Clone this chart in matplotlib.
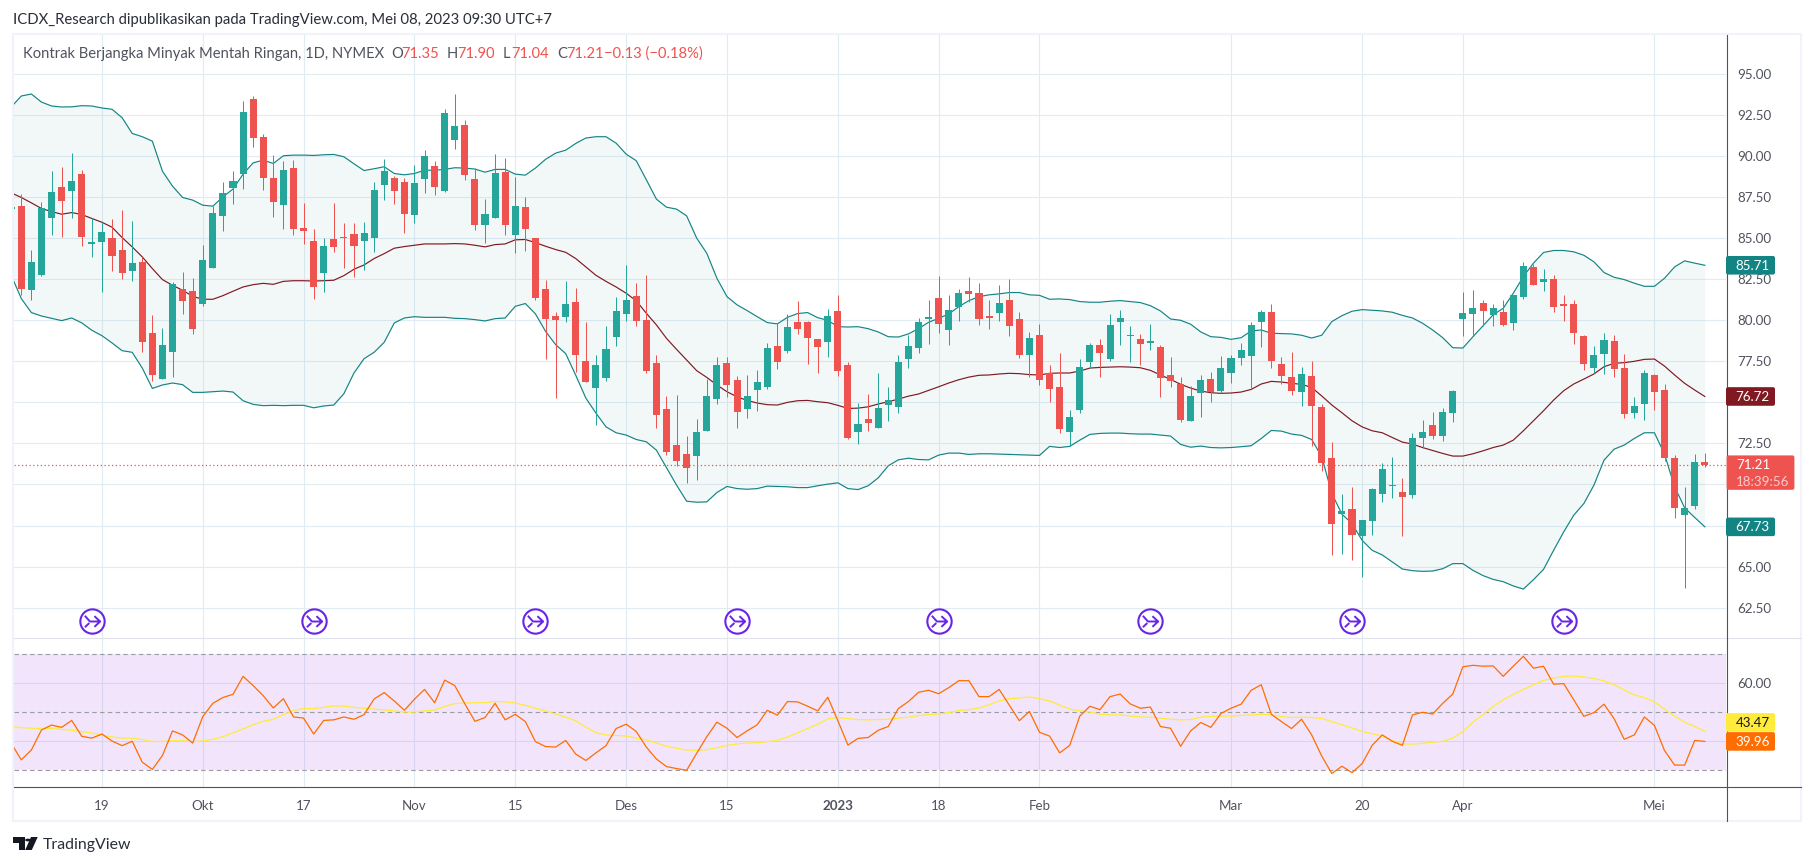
# -*- coding: utf-8 -*-

"""
Crude oil daily candles with Bollinger Bands and RSI, TradingView look
"""

# Imports
import numpy as np
import matplotlib
matplotlib.use("Agg")
import matplotlib.pyplot as plt
from matplotlib.lines import Line2D
from matplotlib.patches import FancyBboxPatch, Polygon, Circle, Rectangle
from matplotlib.path import Path
from matplotlib.transforms import IdentityTransform

# Daily candles, first one is cut by the left edge
opens = [86.78, 86.95, 81.83, 82.74, 86.22, 88.11, 87.86, 88.90, 84.63, 84.75, 85.00, 84.27, 82.98, 83.53, 79.25, 76.44, 78.09, 81.93, 81.81, 81.02,
         83.17, 86.34, 88.05, 88.90, 93.47, 91.16, 88.66, 87.01, 89.27, 85.61, 84.81, 82.86, 84.94, 85.06, 85.24, 84.81, 85.00, 88.23, 88.66, 88.41,
         86.40, 88.60, 89.39, 87.86, 90.97, 91.89, 88.60, 85.79, 86.22, 89.02, 85.18, 86.89, 85.00, 81.91, 80.28, 80.22, 81.14, 77.54, 75.89, 76.48,
         78.98, 80.39, 81.48, 80.02, 77.40, 74.59, 72.40, 71.85, 71.73, 73.25, 75.20, 77.40, 76.36, 74.59, 75.75, 75.93, 78.43, 78.13, 79.90, 79.90,
         78.86, 78.68, 80.57, 77.28, 73.19, 73.98, 73.43, 74.84, 74.71, 77.64, 78.31, 80.08, 81.36, 79.41, 80.81, 81.79, 81.67, 80.26, 80.45, 81.24,
         80.08, 77.89, 79.11, 76.79, 75.93, 73.19, 74.53, 77.46, 78.50, 77.64, 79.90, 79.04, 78.86, 78.64, 78.37, 76.67, 76.12, 73.86, 75.57, 76.42,
         75.67, 76.79, 77.70, 77.82, 79.90, 80.51, 77.34, 76.54, 75.63, 76.60, 74.71, 71.60, 68.21, 68.49, 66.85, 67.76, 69.41, 69.90, 69.53, 69.35,
         72.82, 73.62, 72.95, 74.35, 80.08, 80.39, 81.06, 80.33, 80.51, 79.84, 81.42, 83.25, 82.34, 82.52, 81.00, 81.00, 79.04, 77.09, 77.95, 78.74,
         77.09, 74.35, 74.90, 76.67, 75.75, 71.60, 68.13, 68.68, 71.35]
highs = [87.00, 87.72, 84.27, 87.19, 89.08, 89.33, 90.18, 89.14, 86.22, 85.97, 86.16, 86.70, 86.03, 83.86, 80.35, 79.55, 82.34, 82.92, 82.55, 84.57,
         86.95, 88.41, 89.08, 93.35, 93.66, 91.34, 90.06, 89.69, 89.75, 87.13, 85.55, 85.00, 87.13, 85.91, 85.91, 86.00, 88.41, 89.82, 88.78, 88.66,
         89.45, 90.36, 89.69, 92.87, 93.78, 92.19, 89.25, 87.38, 90.12, 89.88, 88.72, 87.50, 85.00, 82.44, 80.53, 82.42, 81.99, 79.92, 77.91, 79.65,
         81.42, 83.37, 82.28, 82.76, 77.89, 75.38, 75.45, 72.95, 73.98, 76.42, 77.76, 77.76, 76.60, 76.67, 76.97, 78.62, 79.82, 80.39, 81.18, 79.96,
         78.86, 80.69, 81.55, 77.46, 74.96, 75.51, 76.79, 75.93, 77.89, 79.11, 80.14, 81.24, 82.70, 81.55, 81.91, 82.64, 82.28, 81.24, 82.16, 82.52,
         80.51, 79.29, 79.78, 77.28, 78.01, 74.53, 77.64, 78.62, 78.86, 80.39, 80.63, 79.65, 79.17, 79.78, 78.50, 77.76, 76.54, 75.99, 76.67, 76.85,
         77.82, 77.89, 78.62, 79.90, 80.63, 81.00, 77.76, 78.07, 77.15, 77.52, 74.90, 72.58, 69.41, 69.83, 67.82, 69.77, 71.30, 71.66, 70.38, 73.13,
         73.92, 74.41, 74.65, 75.75, 81.73, 81.85, 81.24, 81.00, 81.24, 81.55, 83.56, 83.44, 83.13, 82.76, 81.55, 81.24, 79.11, 78.43, 79.23, 79.11,
         77.95, 75.32, 76.97, 76.73, 76.12, 71.79, 69.83, 71.85, 71.90]
lows = [86.60, 81.57, 81.26, 82.70, 85.18, 85.06, 86.22, 84.51, 83.84, 81.70, 82.98, 82.50, 82.42, 78.09, 76.32, 76.44, 76.56, 80.41, 79.19, 80.89,
        83.17, 85.42, 87.07, 87.98, 90.55, 87.93, 86.28, 85.55, 85.18, 84.63, 81.32, 81.70, 84.14, 83.17, 82.62, 83.05, 84.14, 87.32, 87.07, 85.30,
        85.91, 87.74, 87.62, 87.80, 90.43, 88.53, 85.49, 84.69, 86.22, 85.18, 84.08, 84.20, 81.26, 77.66, 75.28, 79.92, 76.87, 76.26, 73.64, 76.30,
        78.43, 79.96, 79.65, 76.79, 73.43, 71.79, 71.12, 70.08, 70.26, 73.25, 74.90, 75.32, 73.43, 74.04, 74.47, 75.81, 77.03, 78.01, 79.17, 77.34,
        76.79, 77.76, 76.60, 72.76, 72.46, 73.25, 73.43, 73.86, 74.35, 77.09, 78.01, 78.56, 79.23, 78.50, 79.96, 81.12, 79.72, 79.47, 79.96, 79.04,
        77.70, 76.54, 76.06, 75.02, 73.13, 72.34, 74.35, 77.09, 76.54, 77.52, 78.50, 77.46, 77.28, 78.19, 75.32, 75.93, 73.80, 73.86, 74.10, 75.02,
        75.60, 76.18, 77.28, 75.87, 78.37, 77.09, 76.12, 75.45, 74.78, 72.34, 70.81, 65.69, 65.75, 65.38, 64.35, 66.91, 68.92, 69.16, 66.85, 69.16,
        72.21, 72.76, 72.64, 73.80, 79.04, 79.10, 79.65, 79.65, 79.65, 79.41, 81.30, 82.16, 81.79, 80.51, 79.96, 78.56, 76.97, 76.79, 76.73, 76.54,
        74.04, 74.04, 73.92, 74.53, 71.42, 67.94, 63.67, 68.49, 71.04]
closes = [86.92, 81.91, 83.53, 86.83, 87.80, 87.25, 88.47, 85.06, 84.75, 85.36, 83.90, 82.86, 83.47, 78.70, 76.69, 78.52, 82.18, 81.20, 79.49, 83.66,
          86.53, 87.74, 88.47, 92.68, 91.10, 88.66, 87.19, 89.14, 85.55, 85.42, 82.01, 84.51, 84.45, 85.00, 84.51, 85.30, 87.93, 89.08, 87.86, 86.46,
          88.35, 90.00, 88.11, 92.62, 91.83, 88.84, 85.79, 86.46, 88.96, 85.79, 86.95, 85.55, 81.38, 80.10, 80.04, 81.02, 77.91, 76.26, 77.30, 78.25,
          80.57, 81.24, 79.96, 76.91, 74.23, 71.97, 71.42, 70.99, 73.19, 75.38, 77.28, 76.06, 74.41, 75.38, 76.24, 78.31, 77.46, 79.59, 79.47, 78.92,
          78.37, 80.26, 76.91, 72.82, 73.68, 73.74, 74.65, 75.14, 77.46, 78.43, 79.90, 80.20, 79.78, 80.63, 81.67, 81.61, 80.08, 80.14, 81.06, 79.65,
          77.89, 78.92, 76.36, 75.81, 73.37, 74.10, 77.15, 78.50, 78.01, 79.72, 80.14, 79.11, 78.56, 78.74, 76.48, 76.30, 73.92, 75.38, 76.36, 75.63,
          77.09, 77.70, 78.19, 79.72, 80.51, 77.52, 76.60, 75.69, 76.73, 74.78, 71.30, 67.58, 68.37, 66.91, 67.82, 69.71, 70.93, 69.96, 69.23, 72.82,
          73.19, 72.95, 74.41, 75.69, 80.45, 80.75, 80.57, 80.75, 79.72, 81.55, 83.31, 82.16, 82.52, 80.81, 80.87, 79.23, 77.34, 77.89, 78.80, 77.03,
          74.29, 74.78, 76.79, 75.63, 71.60, 68.55, 68.57, 71.36, 71.21]

# Bollinger Bands
bb_upper = [92.99, 93.66, 93.78, 93.29, 93.05, 92.99, 93.00, 93.07, 93.05, 92.93, 92.85, 92.34, 91.38, 91.18, 90.91, 89.08, 88.17, 87.48, 87.32, 87.01,
            86.95, 87.52, 87.99, 88.90, 89.59, 89.75, 89.55, 90.02, 90.06, 90.06, 90.04, 90.08, 90.10, 89.96, 89.53, 89.12, 89.23, 89.35, 88.94, 88.86,
            88.94, 89.14, 89.14, 89.19, 89.29, 89.27, 89.21, 89.02, 89.19, 89.19, 88.90, 88.84, 89.27, 89.80, 90.18, 90.36, 90.77, 91.10, 91.18, 91.18,
            90.79, 90.12, 89.72, 88.56, 87.38, 86.89, 86.77, 86.36, 85.00, 84.08, 82.56, 81.44, 80.94, 80.59, 80.22, 79.86, 79.78, 80.18, 80.41, 80.47,
            80.16, 80.00, 79.61, 79.59, 79.61, 79.49, 79.29, 79.00, 78.98, 79.17, 79.49, 79.88, 80.12, 80.39, 80.83, 81.20, 81.44, 81.55, 81.61, 81.69,
            81.69, 81.55, 81.52, 81.28, 81.30, 81.26, 81.14, 81.10, 81.10, 81.16, 81.20, 81.14, 81.08, 80.89, 80.57, 80.08, 80.00, 79.76, 79.29, 79.00,
            78.96, 78.84, 78.94, 79.35, 79.41, 79.21, 79.19, 79.17, 79.09, 78.92, 79.09, 79.92, 80.28, 80.55, 80.65, 80.61, 80.57, 80.49, 80.30, 80.14,
            79.82, 79.41, 78.94, 78.33, 78.31, 79.00, 79.67, 80.33, 80.73, 81.65, 82.66, 83.48, 84.13, 84.25, 84.25, 84.17, 83.96, 83.56, 82.91, 82.62,
            82.48, 82.26, 82.07, 82.07, 82.56, 83.25, 83.62, 83.48, 83.35]
bb_middle = [87.76, 87.48, 87.15, 86.81, 86.62, 86.46, 86.56, 86.44, 86.20, 85.97, 85.67, 85.04, 84.47, 83.86, 83.15, 82.48, 82.13, 81.83, 81.46, 81.28,
             81.28, 81.50, 81.77, 82.03, 82.17, 82.25, 82.19, 82.37, 82.41, 82.41, 82.39, 82.41, 82.44, 82.72, 83.11, 83.37, 83.76, 84.06, 84.39, 84.49,
             84.57, 84.65, 84.65, 84.65, 84.67, 84.65, 84.57, 84.47, 84.61, 84.65, 84.90, 84.92, 84.73, 84.51, 84.31, 84.14, 83.76, 83.25, 82.74, 82.37,
             82.03, 81.65, 81.18, 80.43, 79.72, 78.90, 78.23, 77.58, 76.93, 76.52, 76.06, 75.65, 75.34, 75.12, 74.96, 74.86, 74.84, 75.00, 75.10, 75.12,
             75.04, 74.98, 74.82, 74.63, 74.65, 74.73, 74.90, 75.04, 75.20, 75.38, 75.51, 75.73, 75.95, 76.18, 76.38, 76.54, 76.65, 76.67, 76.73, 76.77,
             76.75, 76.69, 76.67, 76.77, 76.79, 76.79, 76.91, 77.09, 77.13, 77.15, 77.17, 77.15, 77.11, 76.95, 76.67, 76.40, 76.10, 75.87, 75.69, 75.59,
             75.55, 75.57, 75.63, 75.79, 76.12, 76.28, 76.24, 76.16, 76.10, 75.91, 75.39, 74.84, 74.37, 73.88, 73.51, 73.27, 73.15, 72.86, 72.58, 72.46,
             72.25, 72.07, 71.89, 71.73, 71.73, 71.87, 72.05, 72.25, 72.40, 72.70, 73.27, 73.88, 74.49, 75.14, 75.71, 76.12, 76.42, 76.73, 77.17, 77.38,
             77.42, 77.50, 77.62, 77.64, 77.21, 76.67, 76.16, 75.75, 75.36]
bb_lower = [82.74, 81.32, 80.47, 80.26, 80.12, 79.98, 80.14, 79.84, 79.39, 79.06, 78.62, 78.15, 78.05, 77.09, 75.85, 76.06, 76.18, 76.08, 75.61, 75.61,
            75.65, 75.69, 75.63, 75.10, 74.88, 74.80, 74.82, 74.80, 74.82, 74.82, 74.67, 74.78, 74.84, 75.53, 76.79, 77.66, 78.05, 78.66, 79.84, 80.14,
            80.22, 80.18, 80.18, 80.18, 80.12, 80.10, 80.04, 79.96, 80.10, 80.14, 80.85, 81.02, 80.39, 79.33, 78.52, 77.97, 76.65, 75.26, 74.35, 73.51,
            73.15, 73.01, 72.74, 72.60, 72.09, 71.03, 69.96, 68.98, 68.92, 68.94, 69.51, 69.88, 69.75, 69.71, 69.75, 69.90, 69.88, 69.86, 69.81, 69.81,
            69.92, 70.02, 70.10, 69.75, 69.69, 69.92, 70.40, 71.14, 71.50, 71.60, 71.52, 71.50, 71.79, 71.91, 71.91, 71.83, 71.87, 71.87, 71.85, 71.83,
            71.81, 71.79, 71.77, 72.32, 72.25, 72.32, 72.70, 73.05, 73.11, 73.13, 73.13, 73.09, 73.07, 73.07, 73.01, 72.95, 72.44, 72.27, 72.34, 72.25,
            72.23, 72.25, 72.30, 72.36, 72.80, 73.29, 73.25, 73.07, 72.99, 72.74, 71.69, 69.45, 68.19, 67.62, 66.60, 65.99, 65.71, 65.28, 64.85, 64.75,
            64.71, 64.73, 64.87, 65.18, 65.18, 64.77, 64.45, 64.22, 64.08, 63.82, 63.63, 64.20, 64.83, 65.99, 67.11, 68.13, 68.84, 69.96, 71.48, 72.15,
            72.40, 72.80, 73.15, 73.15, 71.85, 69.86, 68.57, 67.99, 67.42]

# RSI and its moving average
rsi = [39.3, 33.6, 37.0, 43.9, 45.6, 44.8, 47.2, 41.7, 41.1, 42.5, 40.1, 38.5, 40.0, 32.8, 30.3, 35.1, 43.6, 42.2, 39.4, 48.5,
       53.1, 55.1, 56.2, 62.4, 59.2, 55.7, 51.5, 54.7, 48.4, 48.0, 42.5, 47.2, 47.4, 48.4, 47.6, 49.2, 54.6, 56.8, 53.9, 50.7,
       54.5, 57.9, 53.3, 61.1, 59.2, 52.9, 46.9, 48.2, 53.1, 47.4, 49.3, 46.8, 39.9, 38.2, 38.0, 40.3, 35.6, 33.4, 36.0, 38.5,
       44.4, 45.9, 43.4, 38.0, 33.9, 31.3, 30.6, 30.0, 35.9, 41.6, 46.6, 44.5, 41.3, 43.6, 45.7, 50.7, 49.0, 53.7, 53.6, 52.1,
       50.5, 55.2, 47.1, 38.7, 41.0, 41.3, 43.8, 45.1, 51.3, 53.7, 56.9, 57.6, 56.4, 58.5, 60.9, 60.9, 55.4, 55.4, 57.9, 52.5,
       47.1, 50.3, 43.1, 41.8, 36.0, 38.6, 48.7, 52.1, 50.9, 55.4, 56.3, 52.9, 51.4, 51.8, 45.1, 44.5, 38.3, 43.6, 46.5, 44.8,
       49.6, 51.4, 52.8, 57.6, 59.5, 49.3, 46.8, 44.4, 47.6, 42.2, 34.9, 28.9, 31.4, 29.2, 32.3, 38.6, 42.2, 40.0, 38.6, 49.1,
       50.0, 49.4, 53.1, 56.3, 65.7, 66.2, 65.9, 66.0, 62.4, 65.9, 69.3, 65.2, 65.9, 59.7, 59.9, 54.3, 48.6, 49.9, 52.8, 47.8,
       40.7, 42.2, 48.4, 45.5, 36.8, 31.8, 31.8, 40.3, 39.96]
rsi_ma = [45.2, 44.7, 44.5, 44.4, 44.5, 44.1, 43.8, 43.3, 42.9, 42.1, 41.5, 41.1, 41.1, 40.6, 39.9, 40.0, 40.2, 40.2, 39.9, 40.1,
          40.7, 41.6, 42.9, 44.3, 45.7, 46.9, 47.6, 49.2, 50.6, 51.3, 51.3, 51.7, 52.2, 52.1, 51.7, 51.4, 51.1, 50.8, 50.5, 50.1,
          50.1, 50.5, 50.8, 52.0, 53.0, 53.2, 53.3, 53.3, 53.7, 53.6, 53.2, 52.4, 51.4, 50.5, 49.4, 48.3, 47.1, 44.9, 43.0, 42.2,
          42.0, 41.8, 41.1, 40.5, 39.4, 38.3, 37.6, 37.0, 36.9, 37.1, 37.8, 38.6, 39.1, 39.4, 39.5, 39.9, 40.3, 41.5, 42.9, 44.4,
          45.9, 47.7, 48.2, 47.8, 47.5, 47.4, 47.5, 47.6, 48.0, 48.3, 48.9, 49.2, 49.4, 49.9, 50.6, 50.9, 51.5, 52.6, 53.9, 54.7,
          54.9, 55.3, 54.7, 53.9, 52.5, 51.1, 50.5, 50.1, 49.3, 49.1, 49.1, 48.7, 48.4, 48.3, 48.0, 47.6, 47.4, 47.5, 48.3, 48.6,
          48.7, 48.7, 48.9, 49.1, 49.3, 49.1, 48.5, 48.2, 48.3, 48.2, 47.9, 46.8, 45.7, 44.6, 43.4, 42.6, 41.8, 40.3, 39.1, 39.0,
          39.3, 39.7, 40.0, 41.1, 43.4, 46.6, 49.2, 52.0, 54.3, 56.2, 57.9, 59.5, 61.0, 61.8, 62.4, 62.5, 62.2, 61.7, 60.8, 59.5,
          57.7, 56.0, 55.1, 53.6, 51.1, 48.7, 46.6, 45.1, 43.47]

# Axis labels, bars counted from the first complete candle
date_ticks = [8, 18, 28, 39, 49, 60, 70, 81, 91, 101, 120, 133, 143, 162]
date_labels = ["19", "Okt", "17", "Nov", "15", "Des", "15", "2023", "18", "Feb", "Mar", "20", "Apr", "Mei"]
price_ticks = [62.5, 65, 67.5, 70, 72.5, 75, 77.5, 80, 82.5, 85, 87.5, 90, 92.5, 95]
covered_ticks = [67.5, 70, 75]  # these labels sit fully under the scale tags
rsi_grid = [40, 60]
rsi_levels = [30, 50, 70]

# Bars that carry a contract roll icon
event_bars = [7, 29, 51, 71, 91, 112, 132, 153]

# Colours
UP = "#26A69A"
DOWN = "#EF5350"
BAND = "#138484"
BASIS = "#801922"
RSI_LINE = "#FF6D00"
RSI_MA_LINE = "#FFEB3B"
EVENT = "#6A24E8"
GRID = "#E1ECF2"
FRAME = "#F0F3FA"
AXIS = "#50535E"
TEXT = "#50535E"

FONT = ["Lato", "DejaVu Sans"]
W, H = 1814, 866


def figX(x):
    return x / W


def figY(y):
    return 1 - y / H


def pixelAxes(fig, left, top, right, bottom):
    return fig.add_axes([figX(left), figY(bottom), (right - left) / W, (bottom - top) / H])


def figLine(fig, x0, y0, x1, y1, color):
    fig.add_artist(Line2D([figX(x0), figX(x1)], [figY(y0), figY(y1)], color = color, lw = 0.8, zorder = 5))


def scaleLabel(fig, ax, value, text, background, foreground, shift = 0):
    # Coloured tag on the price scale at the height of the last value
    y = ax.transData.transform((0, value))[1] + shift
    left = ax.transData.transform((ax.get_xlim()[1], 0))[0]
    fig.add_artist(FancyBboxPatch((left, y - 9.3), 49, 18.6, boxstyle = "round,pad=0,rounding_size=2",
                                  transform = IdentityTransform(), fc = background, ec = "none", zorder = 8))
    fig.text(figX(left + 9.5), y / H - 0.0003, text, color = foreground, fontsize = 9.6, family = FONT,
             va = "center", ha = "left", zorder = 9)


def setupAxes(ax):
    ax.set_xlim(-0.724, 169.1)
    ax.set_xticks(date_ticks)
    ax.grid(True, color = GRID, lw = 0.8, zorder = 0)
    ax.set_axisbelow(True)
    ax.tick_params(length = 0)
    ax.yaxis.tick_right()
    for side in ax.spines:
        ax.spines[side].set_visible(False)


def main():

    bars = np.arange(len(opens)) - 1
    o = np.array(opens)
    c = np.array(closes)
    colors = [UP if close >= op else DOWN for op, close in zip(opens, closes)]

    fig = plt.figure(figsize = (W / 100, H / 100), dpi = 100, facecolor = "white")

    # Frame around both panels
    fig.add_artist(Rectangle((figX(13), figY(821)), (1801 - 13) / W, (821 - 34) / H, fc = "none", ec = FRAME, lw = 1.5,
                             transform = fig.transFigure, zorder = 1))

    # Price panel
    ax = pixelAxes(fig, 14, 35, 1726, 638)
    setupAxes(ax)
    ax.set_ylim(60.65, 97.375)
    ax.set_yticks(price_ticks)
    ax.set_yticklabels(["" if p in covered_ticks else "{:.2f}".format(p) for p in price_ticks],
                       color = TEXT, fontsize = 9.6, family = FONT)
    ax.tick_params(axis = "y", pad = 8)
    ax.set_xticklabels([])

    ax.fill_between(bars, bb_lower, bb_upper, color = BAND, alpha = 0.05, lw = 0, zorder = 1)
    ax.plot(bars, bb_upper, color = BAND, lw = 0.85, zorder = 2)
    ax.plot(bars, bb_lower, color = BAND, lw = 0.85, zorder = 2)
    ax.plot(bars, bb_middle, color = BASIS, lw = 0.85, zorder = 2)

    ax.axhline(closes[-1], color = DOWN, lw = 0.9, ls = (0, (1, 2)), zorder = 2)

    ax.vlines(bars, lows, highs, colors = colors, lw = 0.72, zorder = 3)
    ax.bar(bars, np.abs(c - o), bottom = np.minimum(o, c), width = 0.7, color = colors, lw = 0, zorder = 4)

    # Roll icons under the candles
    eventLevel = 61.69
    arrow = Path([(0.15, 0.42), (0.6, 0), (0.15, -0.42), (-0.6, 0.45), (-0.2, 0), (0.6, 0), (-0.6, -0.45), (-0.25, -0.12)],
                 [Path.MOVETO, Path.LINETO, Path.LINETO, Path.MOVETO, Path.LINETO, Path.LINETO, Path.MOVETO, Path.LINETO])
    ax.plot(event_bars, [eventLevel] * len(event_bars), ls = "none", marker = "o", ms = 17.5, mfc = "white", mec = EVENT, mew = 1.5, zorder = 5)
    ax.plot(event_bars, [eventLevel] * len(event_bars), ls = "none", marker = arrow, ms = 11, mfc = "none", mec = EVENT, mew = 1.4, zorder = 6)

    # RSI panel
    ax2 = pixelAxes(fig, 14, 638, 1726, 787)
    setupAxes(ax2)
    ax2.set_ylim(24.24, 75.62)
    ax2.set_yticks(rsi_grid)
    ax2.set_yticklabels(["", "60.00"], color = TEXT, fontsize = 9.6, family = FONT)
    ax2.tick_params(axis = "y", pad = 8)
    ax2.set_xticklabels(date_labels, color = TEXT, fontsize = 9.6, family = FONT)
    ax2.get_xticklabels()[date_labels.index("2023")].set_fontweight("bold")
    ax2.tick_params(axis = "x", pad = 9)

    ax2.axhspan(min(rsi_levels), max(rsi_levels), color = "#8705E1", alpha = 0.1, lw = 0, zorder = 1)
    for level in rsi_levels:
        ax2.axhline(level, color = "#9A9CA3", lw = 0.8, ls = (0, (4, 3)), zorder = 2)
    ax2.plot(bars, rsi_ma, color = RSI_MA_LINE, lw = 0.9, zorder = 3)
    ax2.plot(bars, rsi, color = RSI_LINE, lw = 0.9, zorder = 4)

    # Panel separators and the price scale edge
    figLine(fig, 14, 638, 1801, 638, "#E0E3EB")
    figLine(fig, 14, 787, 1801, 787, AXIS)
    figLine(fig, 1726.5, 35, 1726.5, 821, AXIS)

    # Tags on the scale, the RSI average is pushed up off its neighbour
    scaleLabel(fig, ax, bb_upper[-1], "85.71", BAND, "white")
    scaleLabel(fig, ax, bb_middle[-1], "76.72", BASIS, "white")
    scaleLabel(fig, ax, bb_lower[-1], "67.73", BAND, "white")
    scaleLabel(fig, ax2, rsi_ma[-1], "43.47", RSI_MA_LINE, "#131722", shift = 8.8)
    scaleLabel(fig, ax2, rsi[-1], "39.96", RSI_LINE, "white")

    # Last price tag, two rows
    yLast = ax.transData.transform((0, closes[-1]))[1]
    fig.add_artist(FancyBboxPatch((1726.6, yLast - 25.2), 67.8, 34.4, boxstyle = "round,pad=0,rounding_size=2",
                                  transform = IdentityTransform(), fc = DOWN, ec = "none", zorder = 8))
    fig.text(figX(1736), figY(465), "71.21", color = "white", fontsize = 9.6, family = FONT, va = "center", zorder = 9)
    fig.text(figX(1736), figY(482), "18:39:56", color = "#FCCBCD", fontsize = 9.6, family = FONT, va = "center", zorder = 9)

    # Header and legend
    fig.text(figX(13), figY(20), "ICDX_Research dipublikasikan pada TradingView.com, Mei 08, 2023 09:30 UTC+7",
             color = "#2A2E39", fontsize = 10.7, family = FONT, va = "center")
    legend = [(23, "Kontrak Berjangka Minyak Mentah Ringan, 1D, NYMEX", TEXT), (391, "O", TEXT), (401, "71.35", DOWN),
              (447, "H", TEXT), (457, "71.90", DOWN), (503, "L", TEXT), (511, "71.04", DOWN),
              (557, "C", TEXT), (566, "71.21", DOWN), (604, "\u22120.13 (\u22120.18%)", DOWN)]
    for x, text, color in legend:
        fig.text(figX(x), figY(54), text, color = color, fontsize = 10.6, family = FONT, va = "center", zorder = 9)

    # Footer logo
    logo = "#131722"
    fig.add_artist(Polygon([(figX(13), figY(837)), (figX(24.5), figY(837)), (figX(24.5), figY(850)), (figX(18.5), figY(850)),
                            (figX(18.5), figY(842.5)), (figX(13), figY(842.5))], fc = logo, ec = "none", transform = fig.transFigure))
    fig.add_artist(Polygon([(figX(31), figY(837)), (figX(37.7), figY(837)), (figX(31.8), figY(850)), (figX(25.2), figY(850))],
                           fc = logo, ec = "none", transform = fig.transFigure))
    fig.add_artist(Circle((figX(28), figY(840)), 2.9 / W, fc = logo, ec = "none", transform = fig.transFigure))
    fig.text(figX(42.5), figY(845), "TradingView", color = "#2A2E39", fontsize = 11.4, family = FONT, va = "center")

    fig.savefig("out.png", dpi = 100, facecolor = "white")
    return


if __name__ == "__main__":

    main()
